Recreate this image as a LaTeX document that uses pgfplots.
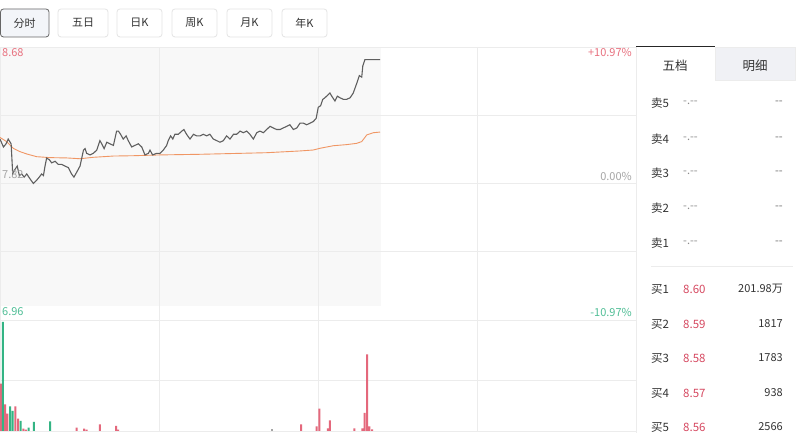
\documentclass[border=0pt]{standalone}
\usepackage{pgfplots}
\pgfplotsset{compat=1.18}
\usepackage{pgfplotstable}
\usepackage{fontspec}
\setmainfont{Noto Sans CJK SC}
\definecolor{barred}{RGB}{228,104,124}
\definecolor{bargreen}{RGB}{52,180,132}
\definecolor{gridc}{RGB}{236,236,236}
\definecolor{pricec}{RGB}{95,95,95}
\definecolor{avgc}{RGB}{240,150,100}
\definecolor{labred}{RGB}{232,112,126}
\definecolor{labgreen}{RGB}{80,190,150}
\definecolor{labgray}{RGB}{165,165,165}
\definecolor{shadec}{RGB}{248,248,248}
\definecolor{tabfill}{RGB}{240,241,245}
\definecolor{btnfill}{RGB}{243,245,249}
\definecolor{btnborder}{RGB}{228,228,228}
\definecolor{txt}{RGB}{51,51,51}
\definecolor{pxred}{RGB}{214,72,96}

\pgfplotstableread{
t p
0 8.10
1.3 8.05
2.3 8.07
3.1 8.10
4.2 8.07
4.8 7.88
5.7 7.91
6.5 7.93
7.3 7.87
8.2 7.88
9.1 7.86
10.1 7.88
11.3 7.85
12.6 7.82
13.8 7.84
14.8 7.86
15.7 7.88
16.4 7.87
17.0 7.93
17.6 7.98
18.6 7.97
19.5 7.95
20.8 7.96
22.0 7.94
23.3 7.94
24.5 7.93
25.8 7.92
27.0 7.88
27.9 7.86
28.9 7.89
30.2 7.93
31.5 8.03
32.1 8.04
32.7 8.01
34.0 8.00
35.2 8.01
36.5 8.03
37.7 8.09
38.4 8.07
39.3 8.04
40.3 8.08
41.5 8.07
42.8 8.06
44.0 8.15
44.7 8.15
45.5 8.13
46.5 8.10
47.6 8.12
48.4 8.09
49.7 8.05
50.9 8.06
52.2 8.07
53.5 8.05
54.7 8.00
56.0 8.01
56.6 8.03
57.6 8.00
59.1 8.01
60.4 8.01
61.6 8.03
62.9 8.06
63.5 8.09
64.4 8.12
65.2 8.10
66.0 8.13
67.3 8.13
68.6 8.15
69.4 8.16
70.4 8.13
71.7 8.10
73.0 8.13
74.2 8.12
75.5 8.12
76.7 8.13
78.0 8.12
79.2 8.13
80.5 8.10
81.8 8.09
83.0 8.08
84.3 8.09
85.5 8.12
86.8 8.10
88.1 8.13
89.3 8.13
90.6 8.15
91.8 8.14
93.1 8.15
94.3 8.13
95.6 8.10
96.9 8.14
98.1 8.15
99.4 8.14
100.6 8.16
101.9 8.18
103.1 8.17
104.4 8.16
105.7 8.16
106.9 8.17
108.2 8.18
109.4 8.19
110.7 8.16
112.0 8.17
113.2 8.20
114.5 8.20
115.7 8.19
117.0 8.20
118.2 8.21
119.3 8.23
120.1 8.30
121.0 8.31
121.8 8.35
122.6 8.36
123.9 8.38
124.5 8.39
125.2 8.37
126.4 8.34
127.3 8.37
128.3 8.36
129.6 8.35
130.8 8.35
132.1 8.36
133.3 8.39
134.6 8.45
135.6 8.50
136.5 8.49
136.9 8.56
137.7 8.60
143.4 8.60
}\pricetable

\pgfplotstableread{
t a
0 8.110
2.5 8.084
5.0 8.042
7.5 8.021
10.1 8.006
13.8 7.989
18.9 7.983
25.2 7.981
30.2 7.976
35.2 7.985
42.8 7.993
50.3 7.995
60.4 8.000
75.5 8.004
100.6 8.014
113.2 8.025
118.2 8.031
120.8 8.042
125.8 8.058
130.8 8.065
134.6 8.073
136.5 8.084
138.4 8.126
140.9 8.140
143.4 8.144
}\avgtable

\pgfplotstableread{
t v
0.3 47.4
1.9 26.7
2.8 17.3
5.8 24.7
6.8 12.3
8.8 2.3
9.8 1.3
28.9 3.3
31.7 2.3
32.7 1.3
37.7 6.7
43.8 5.0
44.6 1.3
113.6 6.7
119.5 4.7
120.5 22.4
123.7 2.7
124.5 10.7
133.7 2.7
136.7 2.7
137.6 18.0
138.5 76.7
139.4 4.7
140.4 1.7
}\volred

\pgfplotstableread{
t v
1.1 109.0
3.8 24.7
4.8 20.0
7.8 10.0
10.8 3.3
12.8 9.0
18.9 9.7
}\volgreen

\pgfplotstableread{
t v
102.5 1.5
}\volgray

\begin{document}
\begin{tikzpicture}
\useasboundingbox (0,0) rectangle (800pt,433pt);
\fill[white] (0,0) rectangle (800pt,433pt);
\begin{scope}[x=1pt,y=-1pt,shift={(0pt,433pt)}]
  \fill[shadec] (0,47) rectangle (381,306);
\end{scope}

% price chart
\begin{axis}[at={(0pt,113pt)}, anchor=south west, scale only axis,
  width=636pt, height=273pt,
  xmin=0, xmax=240, ymin=6.96, ymax=8.68,
  xtick={60,120,180}, ytick={7.39,7.82,8.25},
  xticklabels={}, yticklabels={}, major tick length=0pt,
  grid=major, major grid style={gridc, line width=0.7pt},
  axis line style={gridc, line width=0.7pt}]
  \addplot[avgc, line width=0.9pt] table[x=t, y=a] {\avgtable};
  \addplot[pricec, line width=1.1pt] table[x=t, y=p] {\pricetable};
\end{axis}

% volume chart
\begin{axis}[at={(0pt,2pt)}, anchor=south west, scale only axis,
  width=636pt, height=111pt,
  xmin=0, xmax=240, ymin=0, ymax=111,
  xtick={60,120,180}, ytick={51},
  xticklabels={}, yticklabels={}, major tick length=0pt,
  grid=major, major grid style={gridc, line width=0.7pt},
  axis line style={gridc, line width=0.7pt},
  ybar, bar width=2pt, bar shift=0pt]
  \addplot[fill=barred, draw=none] table[x=t, y=v] {\volred};
  \addplot[fill=bargreen, draw=none] table[x=t, y=v] {\volgreen};
  \addplot[fill=labgray, draw=none] table[x=t, y=v] {\volgray};
\end{axis}

\begin{scope}[x=1pt,y=-1pt,shift={(0pt,433pt)}]
  % buttons
  \draw[rounded corners=3pt, fill=btnfill, draw=black!60, line width=0.8pt] (0.5,9) rectangle (49,37);
  \node[txt, font=\fontsize{11}{13}\selectfont] at (24.5,23) {分时};
  \foreach \a/\b/\lab in {58/108/五日, 117/162/日K, 172/217/周K, 227/272/月K, 282/327/年K}{
    \draw[rounded corners=3pt, fill=white, draw=btnborder, line width=0.8pt] (\a,9) rectangle (\b,37);
    \node[txt, font=\fontsize{11}{13}\selectfont] at ({(\a+\b)/2},23) {\lab};
  }
  % chart labels
  \node[anchor=west, inner sep=0, labred, font=\fontsize{11}{13}\selectfont] at (2,53) {8.68};
  \node[anchor=east, inner sep=0, labred, font=\fontsize{11}{13}\selectfont] at (632,52) {+10.97\%};
  \node[anchor=west, inner sep=0, labgray, font=\fontsize{11}{13}\selectfont] at (2,175) {7.82};
  \node[anchor=east, inner sep=0, labgray, font=\fontsize{11}{13}\selectfont] at (632,176) {0.00\%};
  \node[anchor=west, inner sep=0, labgreen, font=\fontsize{11}{13}\selectfont] at (2,312) {6.96};
  \node[anchor=east, inner sep=0, labgreen, font=\fontsize{11}{13}\selectfont] at (632,312) {-10.97\%};
  % right panel
  \fill[white] (636.4,40) rectangle (800,433);
  \draw[gridc, line width=0.8pt] (636,47) -- (636,433);
  \fill[tabfill] (715,47) rectangle (795,80);
  \draw[gridc, line width=0.6pt] (715,47) -- (795,47) -- (795,80) -- (715,80) -- cycle;
  \draw[black!85, line width=1.8pt] (636,46.5) -- (715,46.5);
  \node[txt, font=\fontsize{12.5}{14}\selectfont] at (675,66) {五档};
  \node[txt, font=\fontsize{12.5}{14}\selectfont] at (755,66) {明细};
  \foreach \y/\n in {103/5, 139/4, 173/3, 208/2, 243/1}{
    \node[anchor=west, inner sep=0, txt, font=\fontsize{11.5}{13}\selectfont] at (651,\y) {卖\n};
    \node[anchor=west, inner sep=0, black!45, font=\fontsize{11}{13}\selectfont] at (683,\y) {-.-{}-};
    \node[anchor=east, inner sep=0, black!55, font=\fontsize{11}{13}\selectfont] at (783,\y) {-{}-};
  }
  \draw[gridc, line width=0.8pt] (651,266) -- (793,266);
  \foreach \y/\n/\p/\v in {289/1/8.60/201.98万, 324/2/8.59/1817, 358/3/8.58/1783, 393/4/8.57/938, 427/5/8.56/2566}{
    \node[anchor=west, inner sep=0, txt, font=\fontsize{11.5}{13}\selectfont] at (651,\y) {买\n};
    \node[anchor=west, inner sep=0, pxred, font=\fontsize{11.5}{13}\selectfont] at (683,\y) {\p};
    \node[anchor=east, inner sep=0, txt, font=\fontsize{11}{13}\selectfont] at (783,\y) {\v};
  }
\end{scope}
\end{tikzpicture}
\end{document}
